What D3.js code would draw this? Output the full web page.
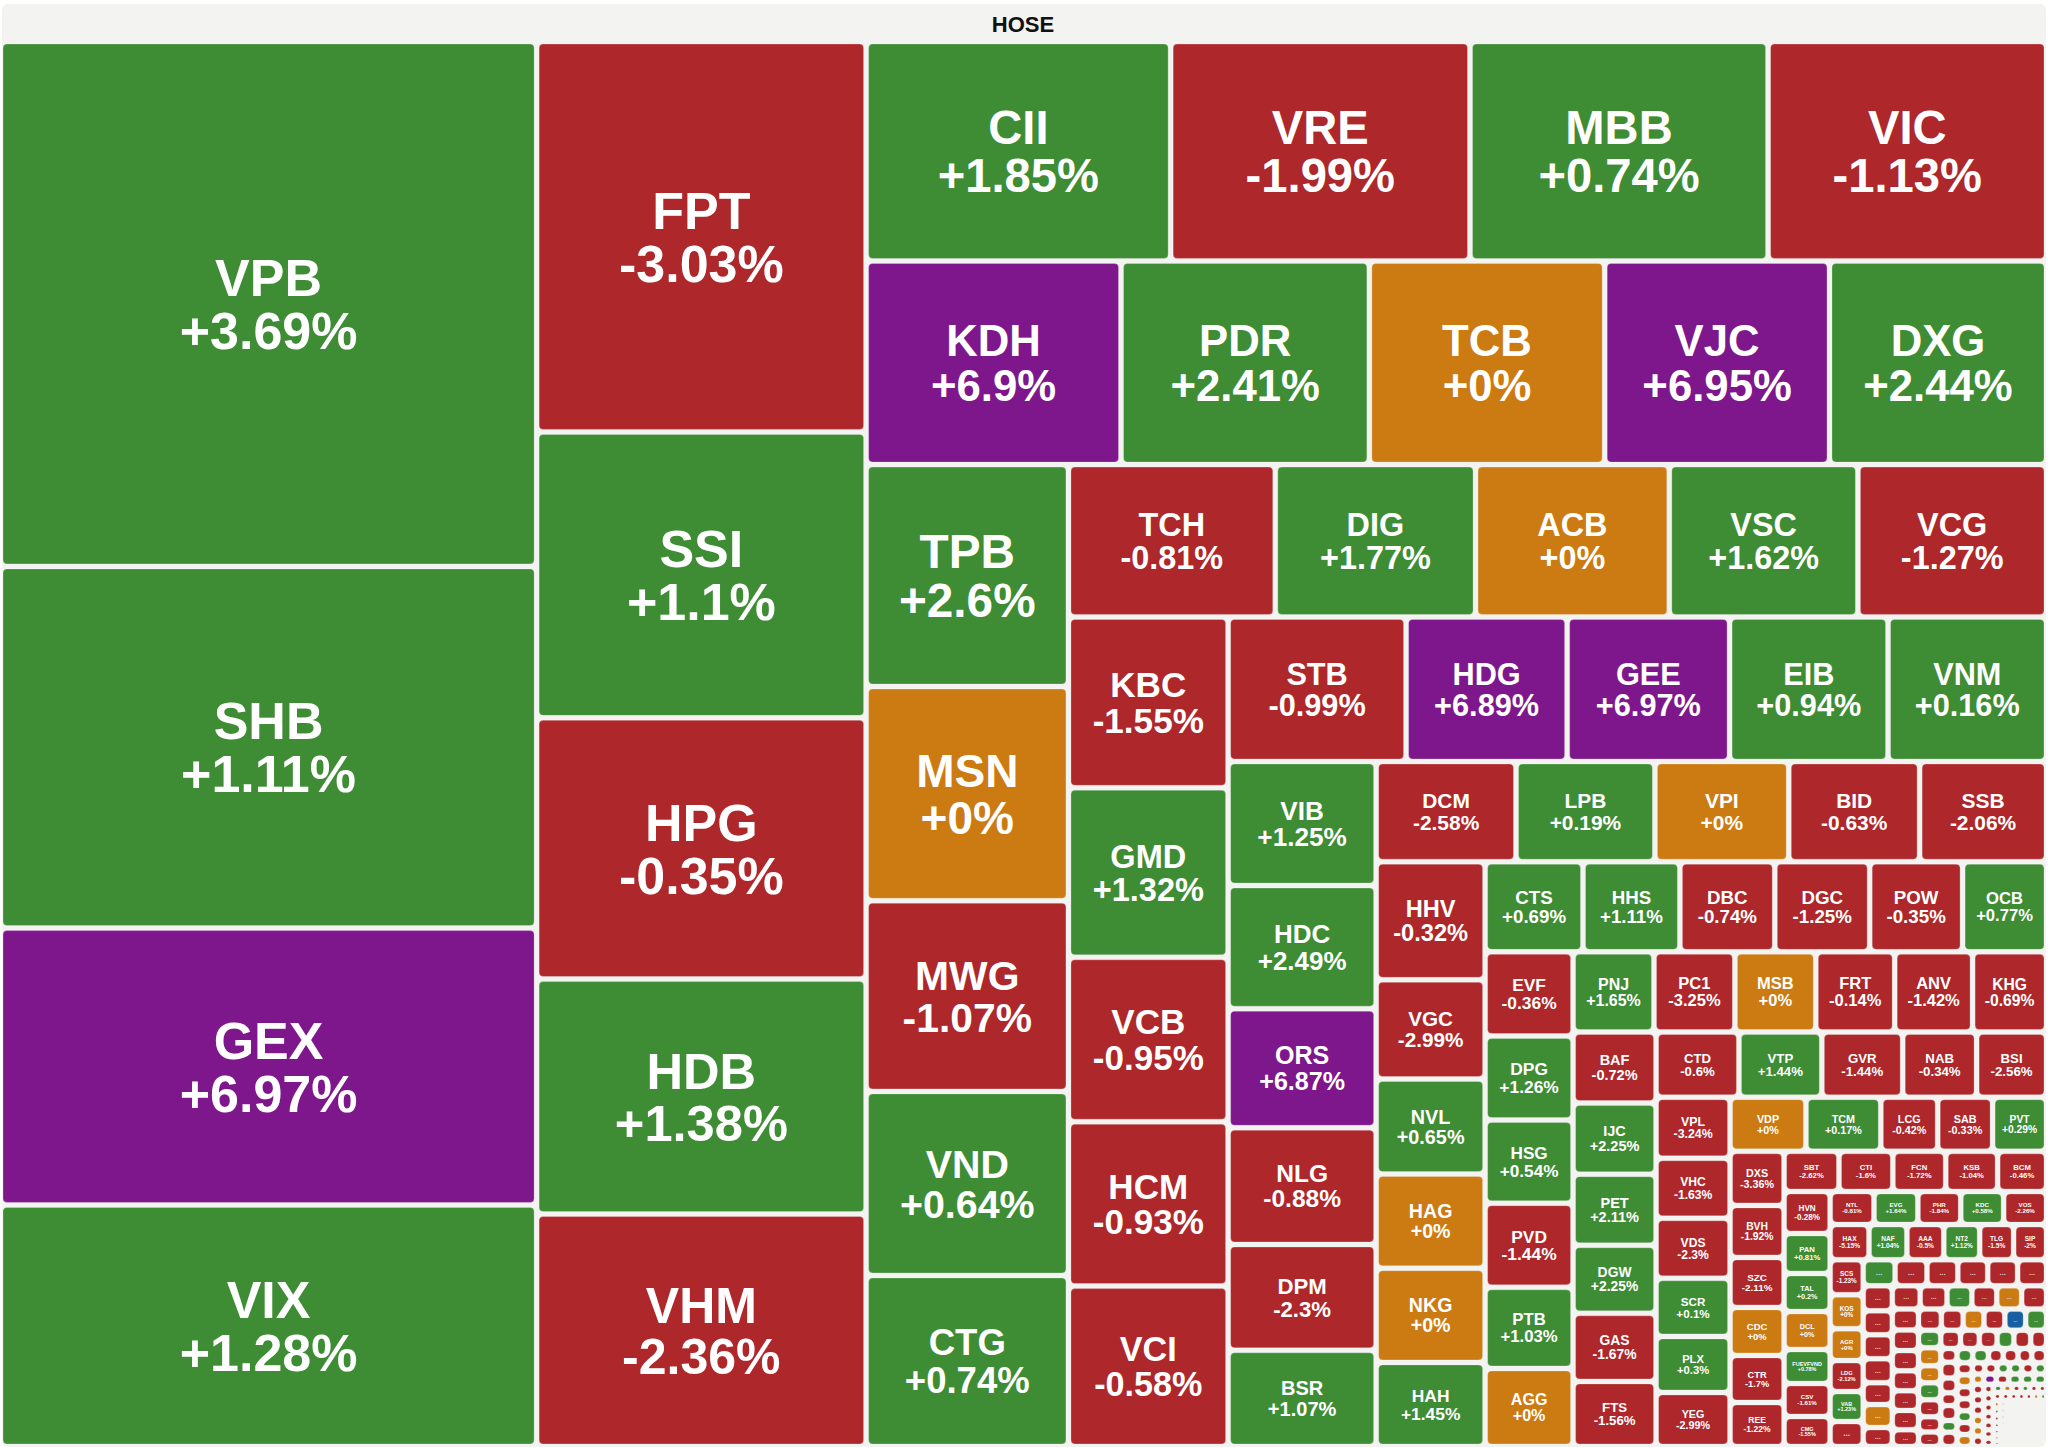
<!DOCTYPE html>
<html>
<head>
<meta charset="utf-8">
<script src="https://cdn.jsdelivr.net/npm/d3@7"></script>
<style>
  html, body { margin: 0; padding: 0; background: #fff; }
  svg { display: block; font-family: "Liberation Sans", Arial, Helvetica, sans-serif; }
</style>
</head>
<body>
<svg id="chart" width="2048" height="1448"></svg>
<script>
const exchange = 'HOSE';

const tickers = [
  'VPB', 'SHB', 'GEX', 'VIX', 'FPT', 'SSI', 'HPG', 'HDB', 'VHM', 'CII',
  'VRE', 'MBB', 'VIC', 'KDH', 'PDR', 'TCB', 'VJC', 'DXG', 'TPB', 'MSN',
  'MWG', 'VND', 'CTG', 'TCH', 'DIG', 'ACB', 'VSC', 'VCG', 'KBC', 'GMD',
  'VCB', 'HCM', 'VCI', 'STB', 'HDG', 'GEE', 'EIB', 'VNM', 'VIB', 'HDC',
  'ORS', 'NLG', 'DPM', 'BSR', 'DCM', 'LPB', 'VPI', 'BID', 'SSB', 'HHV',
  'VGC', 'NVL', 'HAG', 'NKG', 'HAH', 'CTS', 'HHS', 'DBC', 'DGC', 'POW',
  'OCB', 'EVF', 'DPG', 'HSG', 'PVD', 'PTB', 'AGG', 'PNJ', 'PC1', 'MSB',
  'FRT', 'ANV', 'KHG', 'BAF', 'IJC', 'PET', 'DGW', 'GAS', 'FTS', 'CTD',
  'VTP', 'GVR', 'NAB', 'BSI', 'VPL', 'VHC', 'VDS', 'SCR', 'PLX', 'YEG',
  'VDP', 'TCM', 'LCG', 'SAB', 'PVT', 'DXS', 'BVH', 'SZC', 'CDC', 'CTR',
  'REE', 'SBT', 'CTI', 'FCN', 'KSB', 'BCM', 'HVN', 'PAN', 'TAL', 'DCL',
  'FUEVFVND', 'CSV', 'CMG', 'NTL', 'EVG', 'PHR', 'KDC', 'VOS', 'HAX', 'NAF',
  'AAA', 'NT2', 'TLG', 'SIP', 'SCS', 'KOS', 'AGR', 'LDG', 'VAB'
];

const changes = [
  3.69, 1.11, 6.97, 1.28, -3.03, 1.1, -0.35, 1.38, -2.36, 1.85,
  -1.99, 0.74, -1.13, 6.9, 2.41, 0, 6.95, 2.44, 2.6, 0,
  -1.07, 0.64, 0.74, -0.81, 1.77, 0, 1.62, -1.27, -1.55, 1.32,
  -0.95, -0.93, -0.58, -0.99, 6.89, 6.97, 0.94, 0.16, 1.25, 2.49,
  6.87, -0.88, -2.3, 1.07, -2.58, 0.19, 0, -0.63, -2.06, -0.32,
  -2.99, 0.65, 0, 0, 1.45, 0.69, 1.11, -0.74, -1.25, -0.35,
  0.77, -0.36, 1.26, 0.54, -1.44, 1.03, 0, 1.65, -3.25, 0,
  -0.14, -1.42, -0.69, -0.72, 2.25, 2.11, 2.25, -1.67, -1.56, -0.6,
  1.44, -1.44, -0.34, -2.56, -3.24, -1.63, -2.3, 0.1, 0.3, -2.99,
  0, 0.17, -0.42, -0.33, 0.29, -3.36, -1.92, -2.11, 0, -1.7,
  -1.22, -2.62, -1.6, -1.72, -1.04, -0.46, -0.28, 0.81, 0.2, 0,
  0.78, -1.61, -1.55, -0.81, 1.64, -1.84, 0.58, -2.26, -5.15, 1.04,
  -0.5, 1.12, -1.5, -2, -1.23, 0, 0, -2.12, 1.23
];

// relative size of each tile (market value)
const caps = [
  281138, 193744, 148280, 129377, 128514, 94123, 85961, 77371, 76516, 66763,
  65623, 65337, 61037, 51882, 50538, 47890, 45751, 44162, 44870, 43300,
  38550, 37210, 34580, 31467, 30467, 29482, 28694, 28694, 27256, 27049,
  26221, 26221, 25584, 25708, 23265, 23466, 22891, 22891, 18352, 18204,
  17612, 17257, 15658, 14223, 14000, 13900, 13400, 13100, 12700, 12862,
  10791, 10355, 10246, 10246, 9156, 8820, 8730, 8550, 8550, 8370,
  7560, 7392, 7392, 7304, 7392, 7128, 6864, 6480, 6480, 6480,
  6320, 6240, 5920, 5893, 5893, 5893, 5644, 5644, 5395, 5395,
  5395, 5265, 4810, 4550, 4514, 4440, 4440, 4292, 4144, 3996,
  4104, 4050, 3078, 2970, 2916, 2916, 2808, 2700, 2592, 2538,
  2376, 2200, 2160, 2120, 2080, 1960, 1932, 1840, 1748, 1748,
  1564, 1518, 1380, 1452, 1452, 1419, 1419, 1419, 1365, 1330,
  1295, 1260, 1190, 1155, 1155, 1122, 1056, 1023, 990
];

// unlabeled small tiles ("...") and their trend: u up, d down, r reference, c ceiling, f floor
const smallCaps = [
  825,
  832, 832, 806, 780, 780, 754,
  725, 696, 696, 696, 638, 667, 551,
  644, 621, 575, 575, 575, 575,
  550, 540, 530, 520, 515, 505, 441,
  483, 462, 441, 441, 441, 441,
  390, 400, 380, 375, 380, 335, 325,
  360, 342, 324, 306, 306, 288,
  224, 256, 240, 208, 240, 192, 232,
  224, 224, 210, 210, 196, 210,
  185, 183, 183, 183, 183, 183, 183,
  140, 139, 139, 139, 140, 139,
  117, 117, 117, 117, 117, 117, 118,
  130, 130, 130, 130, 130,
  92, 90, 88, 86, 84, 82, 80,
  78, 76, 74, 72, 70,
  68, 66, 64, 62, 60, 58, 56,
  54, 52, 50, 48, 46, 44, 42,
  40, 38, 36, 34, 32, 30, 28, 26
];
const smallTrend = [
  'd',
  'u', 'd', 'd', 'd', 'd', 'd',
  'd', 'd', 'd', 'd', 'd', 'r', 'd',
  'd', 'd', 'u', 'd', 'r', 'd',
  'd', 'd', 'd', 'd', 'd', 'd', 'd',
  'd', 'd', 'r', 'd', 'f', 'u',
  'u', 'r', 'r', 'u', 'd', 'd', 'd',
  'd', 'd', 'd', 'u', 'd', 'd',
  'd', 'd', 'd', 'd', 'd', 'u', 'd',
  'u', 'u', 'd', 'd', 'd', 'd',
  'd', 'r', 'd', 'd', 'u', 'd', 'r',
  'd', 'd', 'u', 'u', 'd', 'u',
  'r', 'd', 'd', 'd', 'r', 'r', 'd',
  'c', 'd', 'u', 'u', 'u',
  'd', 'd', 'd', 'd', 'd', 'd', 'd',
  'u', 'r', 'd', 'u', 'd',
  'd', 'd', 'd', 'd', 'd', 'd', 'r',
  'u', 'r', 'u', 'd', 'd', 'u', 'r',
  'd', 'r', 'r', 'd', 'r', 'd', 'u', 'd'
];

// the many tiny listings in the bottom-right corner, too small to show
const dustCaps = [
  30, 30, 29, 29, 29, 28, 28, 28, 27, 27, 27, 27, 26, 26, 26, 26, 26, 25, 25, 25,
  25, 25, 25, 24, 24, 24, 24, 24, 24, 23, 23, 23, 23, 23, 23, 23, 22, 22, 22, 22,
  22, 22, 22, 21, 21, 21, 21, 21, 21, 21, 20, 20, 20, 20, 20, 20, 20, 20, 19, 19,
  19, 19, 19, 19, 19, 18, 18, 18, 18, 18, 18, 17, 17, 17, 17, 16, 16, 16, 15, 15,
  15, 14, 14, 14, 13, 13, 12, 12, 11, 10
];

// how many consecutive tiles share each strip of the layout
const stripCounts = [
  4, 5, 4, 5, 5, 5, 5, 5, 6, 5, 6, 6, 6, 6, 6, 5, 6, 5, 6, 5,
  7, 5, 6, 6, 6, 7, 6, 7, 6, 7, 6, 7, 6, 7, 6, 7, 5
];

const trendColor = d3.scaleOrdinal()
  .domain(['u', 'd', 'r', 'c', 'f'])
  .range(['#3e8c34', '#ae272a', '#cc7a12', '#7e178b', '#175fa3']);

function trendOf(c) {
  if (c >= 6.8) return 'c';
  if (c <= -6.8) return 'f';
  if (c > 0) return 'u';
  if (c < 0) return 'd';
  return 'r';
}
function fmtChange(c) {
  return (c >= 0 ? '+' : '') + c + '%';
}

// squarified strips: the strip grouping follows stripCounts, then plain squarify
function squarifyEnd(nodes, i0, dx, dy, value) {
  const alpha = Math.max(dy / dx, dx / dy) / value;
  let sum = nodes[i0].value, mn = sum, mx = sum;
  let best = Math.max(mx / (sum * sum * alpha), sum * sum * alpha / mn);
  let i1 = i0 + 1;
  for (; i1 < nodes.length; i1++) {
    const v = nodes[i1].value, s = sum + v, beta = s * s * alpha;
    const r = Math.max(Math.max(mx, v) / beta, beta / Math.min(mn, v));
    if (r > best) break;
    best = r; sum = s; mn = Math.min(mn, v); mx = Math.max(mx, v);
  }
  return i1;
}
function stripTile(parent, x0, y0, x1, y1) {
  const nodes = parent.children, n = nodes.length;
  let value = parent.value, i0 = 0, s = 0;
  while (i0 < n) {
    const dx = x1 - x0, dy = y1 - y0;
    const i1 = s < stripCounts.length ? Math.min(n, i0 + stripCounts[s++]) : squarifyEnd(nodes, i0, dx, dy, value);
    const row = { value: d3.sum(nodes.slice(i0, i1), d => d.value), children: nodes.slice(i0, i1) };
    if (dx < dy) d3.treemapDice(row, x0, y0, x1, value ? y0 += dy * row.value / value : y1);
    else d3.treemapSlice(row, x0, y0, value ? x0 += dx * row.value / value : x1, y1);
    value -= row.value; i0 = i1;
  }
}

const leaves = [];
tickers.forEach((t, i) => leaves.push({ name: t, change: changes[i], value: caps[i], trend: trendOf(changes[i]) }));
smallCaps.forEach((v, i) => leaves.push({ name: '', value: v, trend: smallTrend[i] }));
dustCaps.forEach(v => leaves.push({ name: '', value: v, trend: 'd' }));

const svg = d3.select('#chart');

svg.append('rect')
  .attr('x', 2).attr('y', 4)
  .attr('width', 2044).attr('height', 1443)
  .attr('rx', 6)
  .attr('fill', '#f3f3f1');

svg.append('text')
  .attr('x', 1023).attr('y', 32)
  .attr('text-anchor', 'middle')
  .attr('font-size', 22)
  .attr('font-weight', 'bold')
  .attr('fill', '#111')
  .text(exchange);

const root = d3.hierarchy({ children: leaves }).sum(d => d.value || 0);

d3.treemap()
  .tile(stripTile)
  .size([2041, 1400])
  .paddingInner(5)(root);

const ctx = document.createElement('canvas').getContext('2d');
ctx.font = 'bold 100px "Liberation Sans"';
const em = s => ctx.measureText(s).width / 100;

const g = svg.append('g').attr('transform', 'translate(3,44)');

const cells = g.selectAll('g.cell')
  .data(root.leaves().filter(d => d.x1 - d.x0 > 0.5 && d.y1 - d.y0 > 0.5))
  .join('g')
  .attr('class', 'cell')
  .attr('transform', d => `translate(${d.x0},${d.y0})`);

cells.append('rect')
  .attr('width', d => d.x1 - d.x0)
  .attr('height', d => d.y1 - d.y0)
  .attr('rx', d => Math.min(4, (d.x1 - d.x0) / 2, (d.y1 - d.y0) / 2))
  .attr('fill', d => trendColor(d.data.trend))
  .attr('stroke', 'rgba(255,255,255,0.25)')
  .attr('stroke-width', 1);

// ticker + change labels
cells.filter(d => d.data.name).each(function (d) {
  const w = d.x1 - d.x0, h = d.y1 - d.y0;
  const label = fmtChange(d.data.change);
  const widest = Math.max(em(d.data.name), em(label));
  const fs = Math.min(52, 0.22 * h, 0.72 * w / widest);
  const cx = w / 2, cy = h / 2;
  const t = d3.select(this).append('text')
    .attr('text-anchor', 'middle')
    .attr('font-weight', 'bold')
    .attr('font-size', fs)
    .attr('fill', '#fff');
  t.append('tspan').attr('x', cx).attr('y', cy - 0.15 * fs).text(d.data.name);
  t.append('tspan').attr('x', cx).attr('y', cy + 0.87 * fs).text(label);
});

// "..." on unlabeled tiles
cells.filter(d => !d.data.name && d.x1 - d.x0 >= 12 && d.y1 - d.y0 >= 8).append('text')
  .attr('x', d => (d.x1 - d.x0) / 2)
  .attr('y', d => (d.y1 - d.y0) / 2 + 2)
  .attr('text-anchor', 'middle')
  .attr('font-size', d => Math.min(9, (d.x1 - d.x0) * 0.3))
  .attr('font-weight', 'bold')
  .attr('fill', 'rgba(255,255,255,0.75)')
  .text('...');
</script>
</body>
</html>
